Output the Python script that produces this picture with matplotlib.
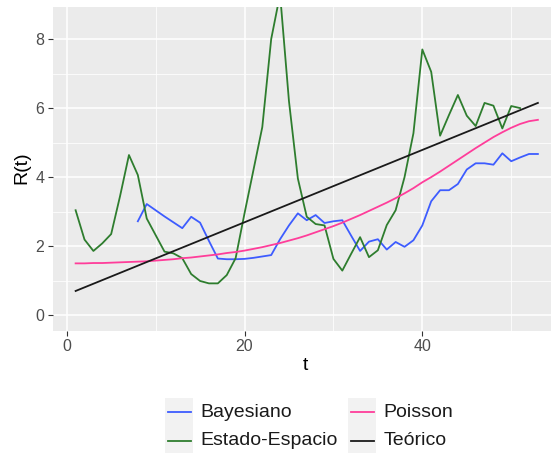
import matplotlib
matplotlib.use("Agg")
import matplotlib.pyplot as plt
from matplotlib.lines import Line2D
from matplotlib.patches import Rectangle

plt.rcParams['font.family'] = ['Liberation Sans', 'DejaVu Sans']

# --- datos ---
t_bayes = list(range(8, 54))
bayesiano = [2.72, 3.22, 3.04, 2.86, 2.69, 2.52, 2.85, 2.68, 2.15, 1.64,
             1.62, 1.62, 1.63, 1.66, 1.70, 1.74, 2.20, 2.60, 2.95, 2.75,
             2.90, 2.67, 2.72, 2.75, 2.30, 1.86, 2.13, 2.20, 1.90, 2.12,
             1.98, 2.17, 2.60, 3.30, 3.62, 3.62, 3.80, 4.22, 4.40, 4.40,
             4.36, 4.69, 4.46, 4.57, 4.67, 4.67]

t_estado = list(range(1, 52))
estado_espacio = [3.04, 2.19, 1.86, 2.08, 2.35, 3.45, 4.64, 4.06, 2.80, 2.32,
                  1.84, 1.79, 1.65, 1.19, 0.99, 0.92, 0.92, 1.16, 1.65, 2.95,
                  4.20, 5.45, 8.00, 9.30, 6.20, 3.96, 2.85, 2.64, 2.60, 1.63,
                  1.29, 1.78, 2.26, 1.68, 1.88, 2.61, 3.04, 4.00, 5.27, 7.70,
                  7.05, 5.20, 5.80, 6.38, 5.78, 5.48, 6.15, 6.07, 5.41, 6.06,
                  6.00]

t_poisson = list(range(1, 54))
poisson = [1.50, 1.50, 1.51, 1.51, 1.52, 1.53, 1.54, 1.55, 1.56, 1.58,
           1.60, 1.62, 1.65, 1.67, 1.70, 1.73, 1.76, 1.80, 1.83, 1.87,
           1.92, 1.97, 2.03, 2.09, 2.16, 2.23, 2.31, 2.40, 2.49, 2.58,
           2.68, 2.79, 2.90, 3.02, 3.14, 3.26, 3.39, 3.53, 3.68, 3.85,
           4.00, 4.16, 4.33, 4.50, 4.67, 4.84, 5.00, 5.16, 5.30, 5.43,
           5.54, 5.62, 5.66]

t_teorico = [1, 53]
teorico = [0.70, 6.15]

series = ['Bayesiano', 'Estado-Espacio', 'Poisson', 'Teórico']
colores = {'Bayesiano': '#3D5CFF', 'Estado-Espacio': '#2E7D2E',
           'Poisson': '#FF3D9A', 'Teórico': '#1A1A1A'}

W, H = 551, 453
fig = plt.figure(figsize=(W / 100, H / 100), dpi=100)

# panel en pixeles (el borde derecho queda fuera de la imagen, como en la referencia)
px_left, px_right, px_top, px_bottom = 52.5, 561.0, 7.0, 331.0
ax = fig.add_axes([px_left / W, 1 - px_bottom / H,
                   (px_right - px_left) / W, (px_bottom - px_top) / H])
ax.set_facecolor('#EBEBEB')
for s in ax.spines.values():
    s.set_visible(False)

ax.set_xlim(-1.6, 55.6)
ax.set_ylim(-0.46, 8.93)
ax.set_xticks([0, 20, 40])
ax.set_xticks([10, 30, 50], minor=True)
ax.set_yticks([0, 2, 4, 6, 8])
ax.set_yticks([1, 3, 5, 7], minor=True)
ax.grid(True, which='major', color='white', lw=1.1)
ax.grid(True, which='minor', color='white', lw=0.55)
ax.set_axisbelow(True)
ax.tick_params(which='major', length=3.5, width=0.8, color='#333333',
               labelsize=11.5, labelcolor='#4D4D4D', pad=2.5)
ax.tick_params(which='minor', length=0)

ax.plot(t_bayes, bayesiano, color=colores['Bayesiano'], lw=1.3)
ax.plot(t_estado, estado_espacio, color=colores['Estado-Espacio'], lw=1.3)
ax.plot(t_poisson, poisson, color=colores['Poisson'], lw=1.3)
ax.plot(t_teorico, teorico, color=colores['Teórico'], lw=1.3)

fig.text(305 / W, 1 - 366 / H, 't', ha='center', va='center', fontsize=14)
fig.text(22 / W, 1 - 168 / H, 'R(t)', ha='center', va='center',
         rotation=90, fontsize=14)

# leyenda estilo ggplot (dos columnas, cajas grises)
key_w, key_h = 28, 28.5
cols_x = [165, 348]
rows_y = [398, 426.5]
for i, nombre in enumerate(series):
    cx = cols_x[i // 2]
    cy = rows_y[i % 2]
    fig.add_artist(Rectangle((cx / W, 1 - (cy + key_h) / H), key_w / W, key_h / H,
                             transform=fig.transFigure, facecolor='#F2F2F2',
                             edgecolor='none'))
    ymid = 1 - (cy + key_h / 2) / H
    fig.add_artist(Line2D([(cx + 2.5) / W, (cx + key_w - 2.5) / W], [ymid, ymid],
                          transform=fig.transFigure, color=colores[nombre], lw=1.3))
    fig.text((cx + key_w + 7.5) / W, ymid, nombre, ha='left', va='center',
             fontsize=14, color='#1A1A1A')

fig.savefig('out.png', dpi=100)
